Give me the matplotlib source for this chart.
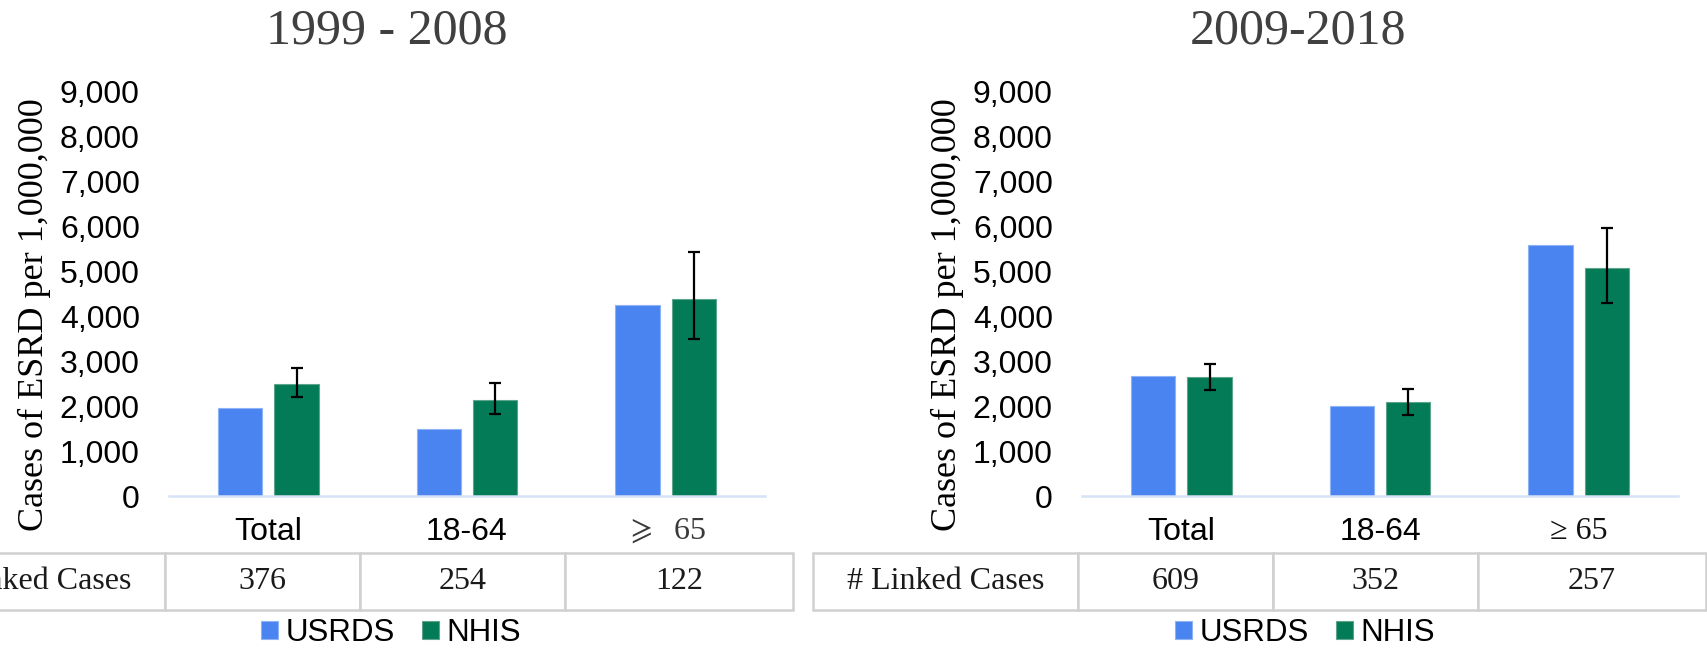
import numpy as np
import matplotlib
matplotlib.use("Agg")
import matplotlib.pyplot as plt
from matplotlib.ticker import StrMethodFormatter

plt.rcParams['font.family'] = 'Liberation Sans'

# ESRD cases per 1,000,000, two periods
periods = ["1999 - 2008", "2009-2018"]
groups_left = ["Total", "18-64", r"$\geqslant$  65"]
groups_right = ["Total", "18-64", "≥ 65"]

usrds_left = [1950, 1500, 4240]
nhis_left = [2490, 2130, 4390]
nhis_lo_left = [2200, 1830, 3500]
nhis_hi_left = [2850, 2510, 5430]

usrds_right = [2660, 2000, 5580]
nhis_right = [2640, 2080, 5070]
nhis_lo_right = [2360, 1800, 4300]
nhis_hi_right = [2940, 2380, 5950]

linked_left = ["376", "254", "122"]
linked_right = ["609", "352", "257"]
row_label = "# Linked Cases"

BLUE = "#4A84F0"
GREEN = "#037B56"
SERIF = "Liberation Serif"

W, H = 1708, 649
fig = plt.figure(figsize=(W / 100, H / 100), dpi=100)


def panel(x0_px, title, title_x_px, ylab_x_px, groups, usrds, nhis, lo, hi, linked,
          legend_x_px, last_color):
    ax = fig.add_axes([x0_px / W, 153 / H, 596 / W, 404.7 / H])
    x = np.arange(len(groups))
    bw = 0.224
    off = 0.142
    b1 = ax.bar(x - off, usrds, bw, color=BLUE, edgecolor="#8DB2F6", linewidth=0.8, label="USRDS")
    nhis = np.array(nhis)
    b2 = ax.bar(x + off, nhis, bw, color=GREEN, edgecolor="#5EA48A", linewidth=0.8, label="NHIS")
    ax.errorbar(x + off, nhis, yerr=[nhis - np.array(lo), np.array(hi) - nhis],
                fmt="none", ecolor="black", elinewidth=1.6, capsize=4, capthick=1.6)

    ax.set_xlim(-0.5, len(groups) - 0.5)
    ax.set_ylim(0, 9000)
    ax.set_yticks(np.arange(0, 9001, 1000))
    ax.yaxis.set_major_formatter(StrMethodFormatter("{x:,.0f}"))
    ax.tick_params(axis="y", length=0, pad=21, labelsize=23)
    ax.set_xticks(x)
    ax.set_xticklabels(groups)
    ax.tick_params(axis="x", length=0, pad=15, labelsize=23)
    # the age group ">= 65" is set in a serif face
    lab = ax.get_xticklabels()[-1]
    lab.set_fontfamily(SERIF)
    lab.set_math_fontfamily("stix")
    lab.set_fontsize(23)
    lab.set_color(last_color)
    for s in ["top", "right", "left"]:
        ax.spines[s].set_visible(False)
    ax.spines["bottom"].set_color("#D6E2F5")
    ax.spines["bottom"].set_linewidth(1.8)

    fig.text(title_x_px / W, 1 - 44 / H, title, ha="center", va="baseline",
             fontsize=36, family=SERIF, color="#404040")
    fig.text(ylab_x_px / W, 1 - 315 / H, "Cases of ESRD per 1,000,000", rotation=90,
             ha="center", va="center", fontsize=26, family=SERIF, color="black")

    # linked-case counts under the categories
    widths = [265, 195, 205, 228]
    tab = ax.table(cellText=[[row_label] + linked], colWidths=[w / 596 for w in widths],
                   cellLoc="center", bbox=[-0.4513, -0.2817, sum(widths) / 596, 0.1409])
    tab.auto_set_font_size(False)
    tab.set_fontsize(23)
    for cell in tab.get_celld().values():
        cell.set_edgecolor("#D0D0D0")
        cell.set_linewidth(1.8)
        cell.get_text().set_fontfamily(SERIF)
        cell.get_text().set_color("#1A1A1A")

    ax.legend(handles=[b1, b2], loc="center", bbox_to_anchor=(legend_x_px / W, 16 / H),
              bbox_transform=fig.transFigure, ncol=2, frameon=False, fontsize=22.5,
              handlelength=0.55, handleheight=0.55, handletextpad=0.25,
              columnspacing=0.85, borderpad=0, borderaxespad=0)
    return ax


panel(169, periods[0], 387, 34, groups_left, usrds_left, nhis_left,
      nhis_lo_left, nhis_hi_left, linked_left, 391, "#3A3A3A")
panel(1082, periods[1], 1298, 947, groups_right, usrds_right, nhis_right,
      nhis_lo_right, nhis_hi_right, linked_right, 1305, "#111111")

fig.savefig("out.png", dpi=100)
